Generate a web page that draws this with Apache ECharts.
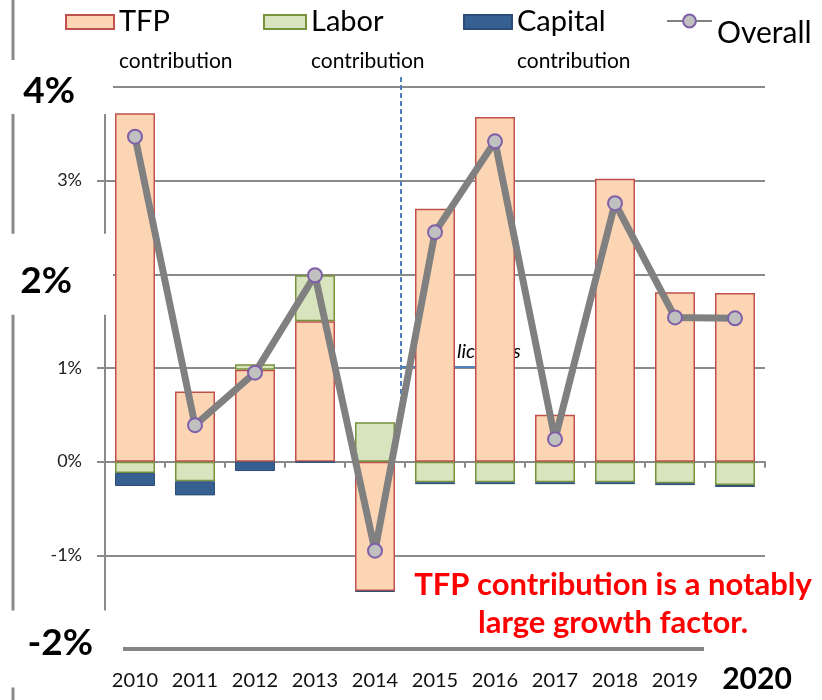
<!DOCTYPE html>
<html><head><meta charset="utf-8">
<script src="https://cdn.jsdelivr.net/npm/echarts@6/dist/echarts.min.js"></script>
<style>html,body{margin:0;padding:0;background:#fff}#c{width:822px;height:700px}</style>
</head><body><div id="c"></div>
<script>
// ---- data ----
const years = ['2010','2011','2012','2013','2014','2015','2016','2017','2018','2019','2020'];
const tfp     = [3.72, 0.75, 0.98, 1.50, -1.38, 2.70, 3.68, 0.50, 3.02, 1.81, 1.80];
const labor   = [-0.12, -0.21, 0.06, 0.49, 0.42, -0.22, -0.22, -0.22, -0.22, -0.23, -0.25];
const capital = [-0.14, -0.15, -0.10, -0.01, -0.01, -0.02, -0.02, -0.02, -0.02, -0.02, -0.02];
const overall = [3.47, 0.39, 0.95, 1.99, -0.95, 2.45, 3.42, 0.24, 2.76, 1.54, 1.53];
const yMin = -2, yMax = 4, yStep = 1;
const bigTicks = [4, 2, -2];
const seriesNames = ['TFP', 'Labor', 'Capital', 'Overall'];
const subLabel = 'contribution';
const annotation = ['TFP contribution is a notably', 'large growth factor.'];
const hiddenNote = 'licenses';

const FONT = 'Lato, "Liberation Sans", sans-serif';
const GRID = '#8a8a8a';
const chart = echarts.init(document.getElementById('c'), null, {renderer: 'canvas'});

function barLegend(name, left, w) {
  return {
    data: [name], left: left, top: -22, padding: 0, orient: 'horizontal',
    itemWidth: w, itemHeight: 14, icon: 'rect', selectedMode: false,
    formatter: n => '{sp| }\n{a|' + n + '}\n{b|' + subLabel + '}',
    textStyle: {
      fontFamily: FONT, color: '#000',
      rich: {
        sp: {lineHeight: 38, fontSize: 10},
        a: {fontSize: 29, lineHeight: 40, fontFamily: FONT, color: '#000'},
        b: {fontSize: 21, lineHeight: 38, fontFamily: FONT, color: '#000'}
      }
    }
  };
}

const option = {
  backgroundColor: '#fff',
  animation: false,
  textStyle: {fontFamily: FONT},
  grid: {left: 105, right: 57, top: 87, bottom: 51, outerBoundsMode: 'none', containLabel: false},
  legend: [
    barLegend(seriesNames[0], 65, 48),
    barLegend(seriesNames[1], 263, 42),
    barLegend(seriesNames[2], 463, 48),
    {
      data: [seriesNames[3]], left: 666, top: -2, padding: 0,
      itemWidth: 45, itemHeight: 16, selectedMode: false,
      formatter: n => '{sp| }\n{a|' + n + '}',
      textStyle: {
        fontFamily: FONT, color: '#000',
        rich: {
          sp: {lineHeight: 25, fontSize: 10},
          a: {fontSize: 30, lineHeight: 36, fontFamily: FONT, color: '#000'}
        }
      }
    }
  ],
  xAxis: [
    {
      type: 'category', data: years, gridIndex: 0,
      axisLine: {show: true, onZero: true, lineStyle: {color: GRID, width: 2}},
      axisTick: {show: true, length: 6, interval: 0, alignWithLabel: false, lineStyle: {color: GRID, width: 2}},
      axisLabel: {show: false},
      splitLine: {show: false}
    },
    {
      type: 'category', data: years, gridIndex: 0, position: 'bottom',
      axisLine: {show: false, onZero: false},
      axisTick: {show: false},
      splitLine: {show: false},
      axisLabel: {
        show: true, interval: 0, margin: 22, fontSize: 20, color: '#111', fontFamily: FONT,
        formatter: v => v === years[years.length - 1] ? '{g| }{big|' + v + '}' : v,
        rich: {
          g: {width: 44, fontSize: 10, lineHeight: 16},
          big: {fontSize: 30, fontWeight: 'bold', lineHeight: 16, color: '#000', fontFamily: FONT}
        }
      }
    }
  ],
  yAxis: {
    type: 'value', min: yMin, max: yMax, interval: yStep,
    axisLine: {show: true, lineStyle: {color: GRID, width: 2}},
    axisTick: {show: true, length: 8, lineStyle: {color: GRID, width: 2}},
    splitLine: {show: true, showMinLine: true, showMaxLine: true, lineStyle: {color: GRID, width: 2}},
    axisLabel: {
      margin: -18, fontFamily: FONT,
      formatter: v => {
        const r = Math.round(v);
        if (bigTicks.indexOf(r) >= 0) {
          if (r === 4) return '{b4|' + r + '%}{g| }';
          if (r === 2) return '{b2|' + r + '%}{g| }';
          return '{bm2|' + r + '%}';
        }
        return '{s|' + r + '%}';
      },
      rich: {
        s: {fontSize: 18, color: '#222', fontFamily: FONT, padding: [0, 41, 0, 0]},
        b4: {fontSize: 37, fontWeight: 'bold', color: '#000', fontFamily: FONT, lineHeight: 40,
             backgroundColor: '#fff', padding: [13, 38, 4, 16]},
        b2: {fontSize: 37, fontWeight: 'bold', color: '#000', fontFamily: FONT, lineHeight: 40,
             backgroundColor: '#fff', padding: [29, 41, 15, 16]},
        bm2: {fontSize: 37, fontWeight: 'bold', color: '#000', fontFamily: FONT, lineHeight: 40,
              backgroundColor: '#fff', padding: [14, 30, 26, 22]},
        g: {width: 10, fontSize: 10, lineHeight: 10}
      }
    }
  },
  series: [
    {name: seriesNames[0], type: 'bar', stack: 'total', barWidth: 40, data: tfp, z: 2,
     itemStyle: {color: '#FCD5B5', borderColor: '#C0504D', borderWidth: 1.5},
     markLine: {silent: true, symbol: 'none', label: {show: false}, z: 10, clip: false,
                lineStyle: {color: '#858585', width: 4, type: 'solid'},
                data: [{yAxis: yMin}]}},
    {name: seriesNames[1], type: 'bar', stack: 'total', barWidth: 40, data: labor, z: 2,
     itemStyle: {color: '#D7E4BD', borderColor: '#77933C', borderWidth: 1.5}},
    {name: seriesNames[2], type: 'bar', stack: 'total', barWidth: 40, data: capital, z: 2,
     itemStyle: {color: '#376092', borderColor: '#2C4D75', borderWidth: 1}},
    {name: seriesNames[3], type: 'line', data: overall, z: 4,
     symbol: 'circle', symbolSize: 14,
     lineStyle: {color: '#808080', width: 7},
     itemStyle: {color: '#C0C0C0', borderColor: '#7F60A8', borderWidth: 2}}
  ],
  graphic: [
    {type: 'line', z: -1, shape: {x1: 13, y1: 0, x2: 13, y2: 700}, style: {stroke: GRID, lineWidth: 3}},
    {type: 'line', z: 1, shape: {x1: 401, y1: 77, x2: 401, y2: 412}, style: {stroke: '#4F81BD', lineWidth: 2, lineDash: [5, 3]}},
    {type: 'line', z: 1, shape: {x1: 401, y1: 367, x2: 505, y2: 367}, style: {stroke: '#4F81BD', lineWidth: 2}},
    {type: 'text', z: 1, x: 457, y: 352, style: {text: hiddenNote, font: 'italic 20px Lato', fill: '#000', verticalAlign: 'middle'}},
    {type: 'rect', z: 11, shape: {x: 704, y: 642, width: 70, height: 13}, style: {fill: '#fff'}},
    {type: 'rect', z: 11, shape: {x: 100, y: 642, width: 23, height: 13}, style: {fill: '#fff'}},
    {type: 'text', z: 12, x: 613, y: 566, style: {text: annotation.join('\n'), font: 'bold 31px Lato', fill: '#ff0000', align: 'center', verticalAlign: 'top', lineHeight: 38}}
  ]
};
chart.setOption(option);
</script>
</body></html>
